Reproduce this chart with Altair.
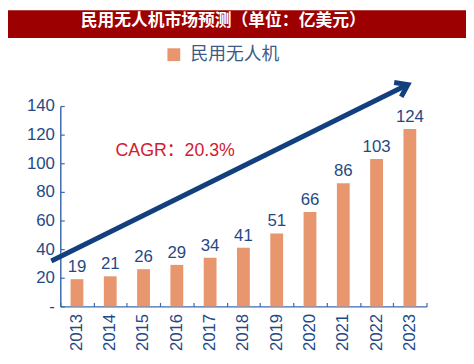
import altair as alt
import pandas as pd

# ---- data ----
years = ["2013", "2014", "2015", "2016", "2017", "2018", "2019", "2020", "2021", "2022", "2023"]
values = [19, 21, 26, 29, 34, 41, 51, 66, 86, 103, 124]
series_name = "民用无人机"
title_text = "民用无人机市场预测（单位：亿美元）"
cagr_label = "CAGR：20.3%"
y_ticks = [0, 20, 40, 60, 80, 100, 120, 140]

# annotation arrow (data units: year position, value)
arrow_x = [2012.23, 2022.94]
arrow_y = [31.7, 155.0]
cagr_pos = [2015.95, 108.3]

# ---- styling ----
W, H = 371, 203
BAR = "#E8966E"
NAVY = "#1F4A86"
AXIS = "#3A6AB0"
ARROW = "#123F7E"
RED = "#D0202F"
BANNER = "#9C0000"
LEG = "#3E5A86"
NUM_FONT = "Liberation Sans"
CJK_FONT = "Noto Sans CJK SC"

df = pd.DataFrame({"year": years, "value": values, "series": [series_name] * len(years)})

xscale = alt.Scale(paddingInner=0, paddingOuter=0)
yscale = alt.Scale(domain=[0, 140], nice=False)

bars = alt.Chart(df).mark_bar(width=alt.RelativeBandSize(0.385)).encode(
    x=alt.X("year:O", scale=xscale,
            axis=alt.Axis(title=None, labelAngle=-90, labelFont=NUM_FONT, labelFontSize=17,
                          labelColor=NAVY, tickSize=0, domainColor=AXIS, domainWidth=1.5,
                          labelPadding=7)),
    y=alt.Y("value:Q", scale=yscale,
            axis=alt.Axis(title=None, values=y_ticks, grid=False, tickSize=0,
                          labelExpr="datum.value == 0 ? '-' : datum.label",
                          labelFont=NUM_FONT, labelFontSize=17, labelColor=NAVY,
                          domainColor=AXIS, domainWidth=1.5, labelPadding=6)),
    color=alt.Color("series:N", scale=alt.Scale(range=[BAR]),
                    legend=alt.Legend(title=None, orient="none", legendX=106, legendY=-61,
                                      symbolType="square", symbolSize=169, symbolStrokeWidth=0,
                                      symbolOpacity=1, labelFontSize=18, labelFont=CJK_FONT,
                                      labelColor=LEG, padding=0, labelOffset=8)),
)

labels = alt.Chart(df).mark_text(dy=-7, baseline="alphabetic", font=NUM_FONT, fontSize=17,
                                 color=NAVY).encode(
    x=alt.X("year:O", scale=xscale,
            axis=alt.Axis(title=None, orient="top", offset=-H, labels=False, domain=False,
                          tickBand="extent", tickSize=4, tickColor=AXIS, tickWidth=1.2)),
    y=alt.Y("value:Q", scale=yscale,
            axis=alt.Axis(title=None, orient="right", offset=-W, labels=False, domain=False,
                          values=y_ticks, grid=False, tickSize=4, tickColor=AXIS, tickWidth=1.2)),
    text="value:Q",
)

inner = alt.layer(bars, labels).resolve_axis(x="independent", y="independent")

qx = alt.Scale(domain=[2012.5, 2023.5], nice=False, zero=False)

shaft_df = pd.DataFrame({"x": [arrow_x[0]], "x2": [arrow_x[1]], "y": [arrow_y[0]], "y2": [arrow_y[1]]})
shaft = alt.Chart(shaft_df).mark_rule(strokeWidth=5, color=ARROW, clip=False).encode(
    x=alt.X("x:Q", scale=qx, axis=None), x2="x2:Q",
    y=alt.Y("y:Q", scale=yscale, axis=None), y2="y2:Q",
)

head_df = pd.DataFrame({"x": [arrow_x[1]], "y": [arrow_y[1]]})
head = alt.Chart(head_df).mark_point(shape="M -1 -0.7 L 0 0 L -1 0.7", size=529, angle=333.6,
                                     filled=False, strokeWidth=5, color=ARROW, opacity=1,
                                     strokeJoin="miter", clip=False).encode(
    x=alt.X("x:Q", scale=qx, axis=None),
    y=alt.Y("y:Q", scale=yscale, axis=None),
)

cagr_df = pd.DataFrame({"x": [cagr_pos[0]], "y": [cagr_pos[1]], "t": [cagr_label]})
cagr = alt.Chart(cagr_df).mark_text(font=f"{NUM_FONT}, '{CJK_FONT}'", fontSize=18, color=RED,
                                    align="center", baseline="middle", clip=False).encode(
    x=alt.X("x:Q", scale=qx, axis=None),
    y=alt.Y("y:Q", scale=yscale, axis=None),
    text="t:N",
)

banner = alt.Chart(pd.DataFrame({"k": [0]})).mark_rect(color=BANNER).encode(
    x=alt.value(-53), x2=alt.value(W + 50), y=alt.value(-97), y2=alt.value(-69)
)
title = alt.Chart(pd.DataFrame({"t": [title_text]})).mark_text(
    font=CJK_FONT, fontSize=17, fontWeight="bold", color="white", align="center", baseline="middle"
).encode(x=alt.value(165), y=alt.value(-86), text="t:N")

chart = alt.layer(banner, title, inner, shaft, head, cagr).resolve_scale(
    x="independent", y="independent"
).properties(
    width=W, height=H,
    autosize=alt.AutoSizeParams(type="none"),
    padding={"left": 53, "top": 97, "right": 40, "bottom": 50},
).configure_view(stroke=None)

chart.save("out.html", embed_options={"renderer": "svg", "actions": False})
